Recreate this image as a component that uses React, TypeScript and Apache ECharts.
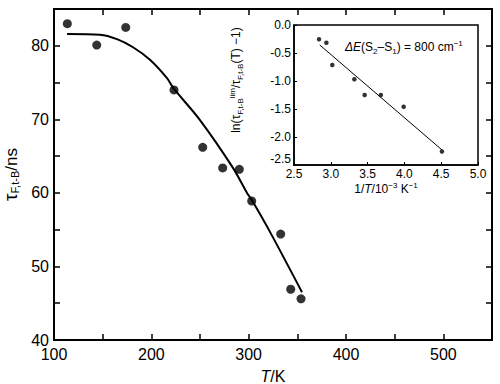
import React, { useEffect, useRef } from "react";
import * as echarts from "echarts";

// Main panel: fluorescence lifetime vs temperature
const T_POINTS = [113.7, 143.9, 173.7, 223.3, 252.8, 273.3, 290.4, 303.1, 332.9, 343.2, 353.8];
const TAU_POINTS = [83.0, 80.1, 82.5, 74.0, 66.2, 63.4, 63.2, 58.9, 54.4, 46.9, 45.6];
const FIT_T = [113.4, 147.3, 164.7, 181.2, 198.6, 216.1, 222.3, 250.0, 283.9, 298.3, 303.4, 321.9, 354.8];
const FIT_TAU = [81.6, 81.5, 80.9, 79.8, 78.1, 75.6, 74.3, 69.9, 63.4, 60.0, 59.0, 54.7, 46.5];

// Inset: Arrhenius plot
const INV_T = [2.84, 2.94, 3.02, 3.32, 3.46, 3.68, 3.99, 4.51];
const LN_RATIO = [-0.255, -0.316, -0.714, -0.97, -1.25, -1.25, -1.46, -2.26];
const INSET_FIT_X = [2.85, 4.51];
const INSET_FIT_Y = [-0.357, -2.23];

const FONT = "Liberation Sans";
const BLACK = "#000";

const mainLine = () => ({ show: true, onZero: false, lineStyle: { color: BLACK, width: 2 } });
const mainTick = () => ({ show: true, inside: true, length: 6, lineStyle: { color: BLACK, width: 1.5 } });
const insetLine = () => ({ show: true, onZero: false, lineStyle: { color: BLACK, width: 1.5 } });
const insetTick = () => ({ show: true, inside: true, length: 3, lineStyle: { color: BLACK, width: 1 } });

export default function App() {
  const ref = useRef<HTMLDivElement>(null);
  useEffect(() => {
    if (!ref.current) return;
    const chart = echarts.init(ref.current, undefined, { renderer: "svg" });
    const option: any = {
      animation: false,
      title: [
        {
          text: "{e|ΔE}(S{s|2}–S{s|1}) = 800 cm{p|−1}",
          left: 343, top: 37, padding: 2,
          textStyle: {
            fontFamily: FONT, fontSize: 12, fontWeight: "normal", color: BLACK,
            rich: {
              e: { fontFamily: FONT, fontSize: 12, fontStyle: "italic", color: BLACK },
              s: { fontFamily: FONT, fontSize: 8, color: BLACK, verticalAlign: "bottom", lineHeight: 16 },
              p: { fontFamily: FONT, fontSize: 8, color: BLACK, verticalAlign: "top", lineHeight: 16 },
            },
          },
        },
      ],
      grid: [
        { left: 54, top: 9, width: 438, height: 331, show: true, outerBoundsMode: "none", borderColor: BLACK, borderWidth: 2 },
        { left: 294, top: 25, width: 184, height: 140, show: true, outerBoundsMode: "none", borderColor: BLACK, borderWidth: 1.5 },
      ],
      xAxis: [
        {
          type: "value", gridIndex: 0, min: 100, max: 550, interval: 50, position: "bottom",
          axisLine: mainLine(), axisTick: mainTick(),
          axisLabel: {
            color: BLACK, fontSize: 16, fontFamily: FONT, margin: 6,
            formatter: (v: number) => (v % 100 === 0 ? String(v) : ""),
          },
          splitLine: { show: false },
          name: "{i|T}/K",
          nameLocation: "middle",
          nameGap: 28,
          nameTextStyle: {
            fontSize: 16, fontFamily: FONT, color: BLACK,
            rich: { i: { fontSize: 16, fontStyle: "italic", fontFamily: FONT, color: BLACK } },
          },
        },
        {
          type: "value", gridIndex: 0, min: 100, max: 550, interval: 50, position: "top",
          axisLine: mainLine(), axisTick: mainTick(),
          axisLabel: { show: false },
          splitLine: { show: false },
        },
        {
          type: "value", gridIndex: 1, min: 2.5, max: 5.0, interval: 0.5, position: "bottom",
          axisLine: insetLine(), axisTick: insetTick(),
          axisLabel: {
            color: BLACK, fontSize: 12, fontFamily: FONT, margin: 3,
            formatter: (v: number) => v.toFixed(1),
          },
          splitLine: { show: false },
          name: "1/{i|T}/10{p|−3} K{p|−1}",
          nameLocation: "middle",
          nameGap: 16,
          nameTextStyle: {
            fontSize: 12, fontFamily: FONT, color: BLACK,
            rich: {
              i: { fontSize: 12, fontFamily: FONT, fontStyle: "italic", color: BLACK },
              p: { fontSize: 8, fontFamily: FONT, color: BLACK, verticalAlign: "top", lineHeight: 16 },
            },
          },
        },
      ],
      yAxis: [
        {
          type: "value", gridIndex: 0, min: 40, max: 85, interval: 5, position: "left",
          axisLine: mainLine(), axisTick: mainTick(),
          axisLabel: {
            color: BLACK, fontSize: 16, fontFamily: FONT, margin: 5,
            formatter: (v: number) => (v % 10 === 0 ? String(v) : ""),
          },
          splitLine: { show: false },
          name: "{t|τ}{s|F,t-B}{n|/ns}",
          nameLocation: "middle",
          nameRotate: 90,
          nameGap: 32,
          nameTextStyle: {
            color: BLACK, fontFamily: FONT,
            rich: {
              t: { fontSize: 19, fontFamily: FONT, color: BLACK, verticalAlign: "bottom" },
              s: { fontSize: 11, fontFamily: FONT, color: BLACK, verticalAlign: "bottom", lineHeight: 14 },
              n: { fontSize: 17, fontFamily: FONT, color: BLACK, verticalAlign: "bottom" },
            },
          },
        },
        {
          type: "value", gridIndex: 0, min: 40, max: 85, interval: 5, position: "right",
          axisLine: mainLine(), axisTick: mainTick(),
          axisLabel: { show: false },
          splitLine: { show: false },
        },
        {
          type: "value", gridIndex: 1, min: -2.5, max: 0, interval: 0.5, position: "left",
          axisLine: insetLine(), axisTick: insetTick(),
          axisLabel: {
            color: BLACK, fontSize: 12, fontFamily: FONT, margin: 3,
            verticalAlignMinLabel: "bottom",
            formatter: (v: number) => v.toFixed(1),
          },
          splitLine: { show: false },
          name: "ln(τ{s|F,t-B}{p|lim}/τ{s|F,t-B}(T) −1)",
          nameLocation: "middle",
          nameRotate: 90,
          nameGap: 50,
          nameTextStyle: {
            fontSize: 12, fontFamily: FONT, color: BLACK,
            padding: [0, 0, 0, 30],
            rich: {
              s: { fontSize: 8, fontFamily: FONT, color: BLACK, verticalAlign: "bottom", lineHeight: 16 },
              p: { fontSize: 8, fontFamily: FONT, color: BLACK, verticalAlign: "top", lineHeight: 16 },
            },
          },
        },
      ],
      series: [
        {
          type: "line", xAxisIndex: 0, yAxisIndex: 0,
          data: FIT_T.map((t, i) => [t, FIT_TAU[i]]),
          showSymbol: false, smooth: 0.3,
          lineStyle: { color: BLACK, width: 2 },
        },
        {
          type: "scatter", xAxisIndex: 0, yAxisIndex: 0,
          data: T_POINTS.map((t, i) => [t, TAU_POINTS[i]]),
          symbol: "circle", symbolSize: 9,
          itemStyle: { color: BLACK },
        },
        {
          type: "line", xAxisIndex: 2, yAxisIndex: 2,
          data: INSET_FIT_X.map((x, i) => [x, INSET_FIT_Y[i]]),
          showSymbol: false,
          lineStyle: { color: BLACK, width: 1 },
        },
        {
          type: "scatter", xAxisIndex: 2, yAxisIndex: 2,
          data: INV_T.map((x, i) => [x, LN_RATIO[i]]),
          symbol: "circle", symbolSize: 4.5,
          itemStyle: { color: BLACK },
        },
      ],
    };
    chart.setOption(option);
    return () => chart.dispose();
  }, []);
  return <div ref={ref} style={{ width: 500, height: 384, position: "absolute", left: 0, top: 0 }} />;
}
